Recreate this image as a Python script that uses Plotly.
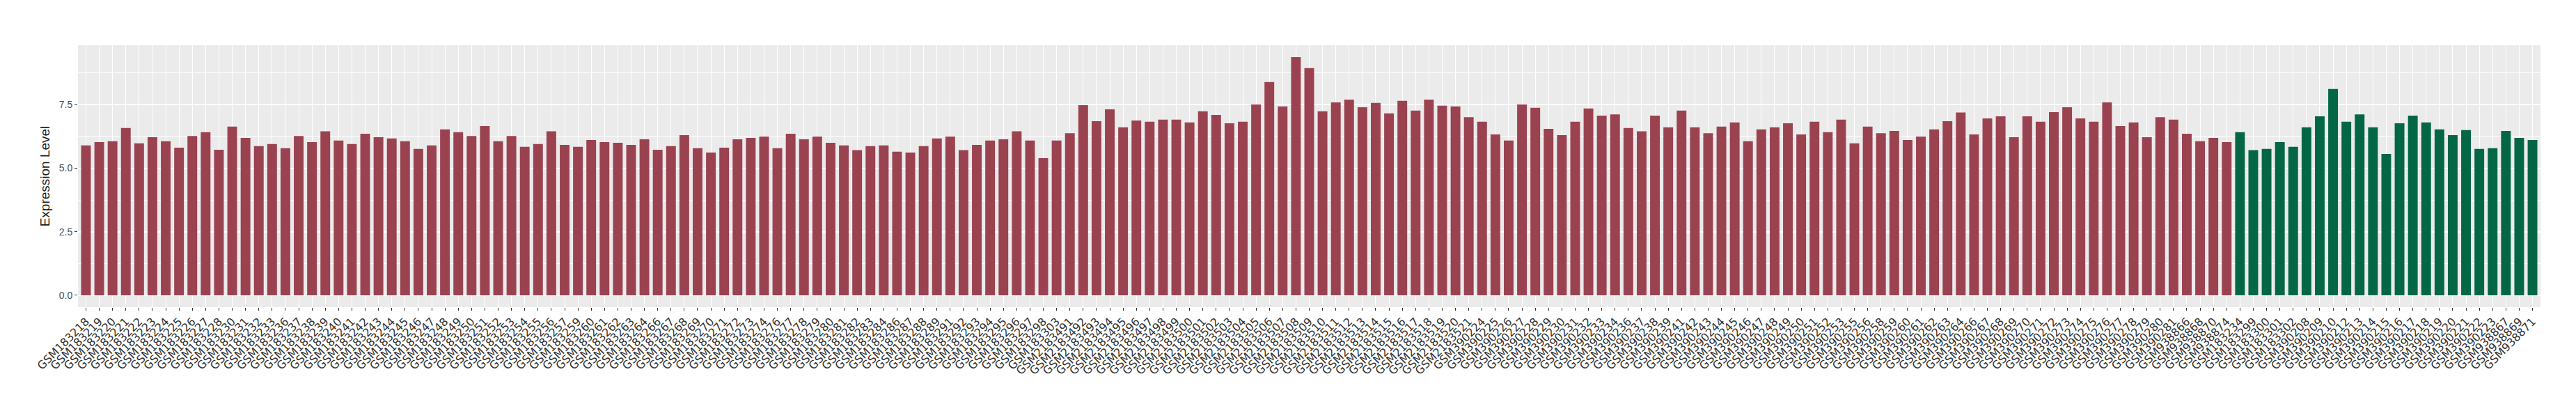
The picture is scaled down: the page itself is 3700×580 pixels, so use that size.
import plotly.graph_objects as go

# ---- data ----
group1_samples = [
    "GSM183218", "GSM183219", "GSM183220", "GSM183221", "GSM183222", "GSM183223", "GSM183224",
    "GSM183225", "GSM183226", "GSM183227", "GSM183228", "GSM183230", "GSM183231", "GSM183232",
    "GSM183233", "GSM183236", "GSM183237", "GSM183238", "GSM183239", "GSM183240", "GSM183241",
    "GSM183242", "GSM183243", "GSM183244", "GSM183245", "GSM183246", "GSM183247", "GSM183248",
    "GSM183249", "GSM183250", "GSM183251", "GSM183252", "GSM183253", "GSM183254", "GSM183255",
    "GSM183256", "GSM183257", "GSM183259", "GSM183260", "GSM183261", "GSM183262", "GSM183263",
    "GSM183264", "GSM183266", "GSM183267", "GSM183268", "GSM183269", "GSM183270", "GSM183271",
    "GSM183272", "GSM183273", "GSM183274", "GSM183276", "GSM183277", "GSM183278", "GSM183279",
    "GSM183280", "GSM183281", "GSM183282", "GSM183283", "GSM183284", "GSM183286", "GSM183287",
    "GSM183288", "GSM183289", "GSM183291", "GSM183292", "GSM183293", "GSM183294", "GSM183295",
    "GSM183296", "GSM183297", "GSM183298", "GSM183303", "GSM2183491", "GSM2183492", "GSM2183493",
    "GSM2183494", "GSM2183495", "GSM2183496", "GSM2183497", "GSM2183498", "GSM2183499",
    "GSM2183500", "GSM2183501", "GSM2183502", "GSM2183503", "GSM2183504", "GSM2183505",
    "GSM2183506", "GSM2183507", "GSM2183508", "GSM2183509", "GSM2183510", "GSM2183511",
    "GSM2183512", "GSM2183513", "GSM2183514", "GSM2183515", "GSM2183516", "GSM2183517",
    "GSM2183518", "GSM2183519", "GSM2183520", "GSM2183521", "GSM390224", "GSM390225",
    "GSM390226", "GSM390227", "GSM390228", "GSM390229", "GSM390230", "GSM390231", "GSM390232",
    "GSM390233", "GSM390234", "GSM390236", "GSM390237", "GSM390238", "GSM390239", "GSM390241",
    "GSM390242", "GSM390243", "GSM390244", "GSM390245", "GSM390246", "GSM390247", "GSM390248",
    "GSM390249", "GSM390250", "GSM390251", "GSM390252", "GSM390253", "GSM390255", "GSM390256",
    "GSM390258", "GSM390259", "GSM390260", "GSM390261", "GSM390262", "GSM390263", "GSM390264",
    "GSM390266", "GSM390267", "GSM390268", "GSM390269", "GSM390270", "GSM390271", "GSM390272",
    "GSM390273", "GSM390274", "GSM390275", "GSM390276", "GSM390277", "GSM390278", "GSM390279",
    "GSM390280", "GSM390281", "GSM938866", "GSM938868", "GSM938870", "GSM938874",
]
group1_values = [
    5.90, 6.03, 6.06, 6.58, 5.98, 6.22, 6.06, 5.81, 6.27, 6.42, 5.73, 6.64, 6.19, 5.87,
    5.95, 5.79, 6.27, 6.03, 6.45, 6.09, 5.95, 6.36, 6.22, 6.17, 6.06, 5.76, 5.90, 6.53,
    6.42, 6.27, 6.66, 6.06, 6.27, 5.84, 5.95, 6.45, 5.92, 5.84, 6.11, 6.03, 6.00, 5.92,
    6.14, 5.73, 5.87, 6.30, 5.79, 5.62, 5.81, 6.14, 6.19, 6.25, 5.79, 6.36, 6.14, 6.25,
    6.00, 5.90, 5.71, 5.87, 5.90, 5.65, 5.62, 5.87, 6.17, 6.25, 5.71, 5.92, 6.09, 6.14,
    6.45, 6.09, 5.40, 6.09, 6.38, 7.48, 6.85, 7.32, 6.61, 6.88, 6.83, 6.91, 6.91,
    6.80, 7.24, 7.10, 6.77, 6.83, 7.51, 8.39, 7.43, 9.37, 8.94, 7.24, 7.59,
    7.70, 7.40, 7.57, 7.16, 7.65, 7.27, 7.70, 7.46, 7.43, 7.01, 6.83, 6.33,
    6.09, 7.51, 7.38, 6.55, 6.30, 6.83, 7.35, 7.07, 7.12, 6.58, 6.45, 7.07, 6.61, 7.27,
    6.61, 6.38, 6.64, 6.80, 6.06, 6.53, 6.61, 6.77, 6.33, 6.83, 6.42, 6.91, 5.98, 6.64,
    6.38, 6.47, 6.11, 6.25, 6.53, 6.85, 7.19, 6.33, 6.96, 7.04, 6.22, 7.04, 6.83, 7.21,
    7.40, 6.96, 6.83, 7.59, 6.66, 6.80, 6.22, 7.01, 6.91, 6.36, 6.06, 6.19, 6.03,
]
group2_samples = [
    "GSM183234", "GSM183299", "GSM183300", "GSM183301", "GSM183302", "GSM390208", "GSM390209",
    "GSM390210", "GSM390212", "GSM390213", "GSM390214", "GSM390215", "GSM390216", "GSM390217",
    "GSM390218", "GSM390219", "GSM390220", "GSM390221", "GSM390222", "GSM390223", "GSM938867",
    "GSM938869", "GSM938871",
]
group2_values = [
    6.42, 5.71, 5.76, 6.03, 5.84, 6.61, 7.04, 8.12, 6.83, 7.12, 6.61, 5.56, 6.77, 7.07,
    6.80, 6.53, 6.30, 6.50, 5.76, 5.79, 6.47, 6.19, 6.11,
]
y_ticks = [0, 2.5, 5.0, 7.5]
y_minor_ticks = [1.25, 3.75, 6.25, 8.75]

RED = "#9B4251"
GREEN = "#036746"

all_samples = group1_samples + group2_samples
n = len(all_samples)
ymax = max(group1_values + group2_values)
pad = 0.05 * ymax

fig = go.Figure()
fig.add_trace(go.Bar(x=group1_samples, y=group1_values, marker=dict(color=RED, line=dict(width=0)),
                     width=0.73, showlegend=False))
fig.add_trace(go.Bar(x=group2_samples, y=group2_values, marker=dict(color=GREEN, line=dict(width=0)),
                     width=0.73, showlegend=False))

fig.update_layout(
    width=3700, height=580,
    margin=dict(l=104, r=59, t=57, b=147, autoexpand=False),
    paper_bgcolor="white",
    plot_bgcolor="#EBEBEB",
    font=dict(family="Liberation Sans, Arial, sans-serif", color="#1A1A1A"),
)
fig.update_xaxes(
    type="category",
    categoryorder="array", categoryarray=all_samples,
    range=[-0.6, n - 1 + 0.6],
    tickangle=-45,
    tickfont=dict(size=16, color="#333333", family="DejaVu Sans, sans-serif"),
    ticks="outside", ticklen=4, tickwidth=1, tickcolor="#333333",
    showgrid=True, gridcolor="white", gridwidth=1.2,
    showline=False, zeroline=False, automargin=False,
)
fig.update_yaxes(
    range=[-pad, ymax + pad],
    tickvals=y_ticks, ticktext=["0.0", "2.5", "5.0", "7.5"],
    tickfont=dict(size=14, color="#4D4D4D"),
    ticks="outside", ticklen=4, tickwidth=1, tickcolor="#333333",
    showgrid=True, gridcolor="white", gridwidth=1.6,
    minor=dict(tickvals=y_minor_ticks, showgrid=True, gridcolor="white", gridwidth=0.8, ticks=""),
    zeroline=False, showline=False, automargin=False,
    title=dict(text="Expression Level", font=dict(size=19, color="#1A1A1A"), standoff=8),
)

fig.write_html("out.html")
